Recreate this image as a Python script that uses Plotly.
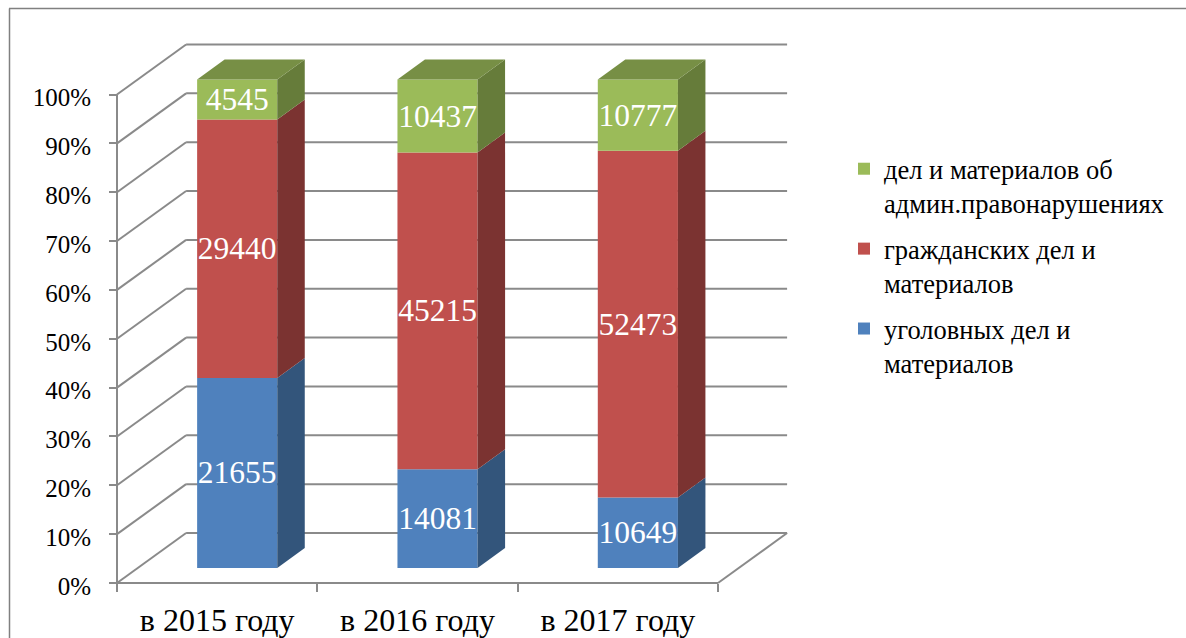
import plotly.graph_objects as go

categories = ["в 2015 году", "в 2016 году", "в 2017 году"]
criminal = [21655, 14081, 10649]
civil = [29440, 45215, 52473]
admin = [4545, 10437, 10777]
series_names = ["уголовных дел и<br>материалов",
                "гражданских дел и<br>материалов",
                "дел и материалов об<br>админ.правонарушениях"]
percent_ticks = [0, 10, 20, 30, 40, 50, 60, 70, 80, 90, 100]
percent_labels = ["0%", "10%", "20%", "30%", "40%", "50%", "60%", "70%", "80%", "90%", "100%"]

W, H = 1186, 638
AX_L, AX_B = 117.0, 583.0
PX_X, PX_Y = 200.33, 4.885
WALL_DX, WALL_DY = 0.345, 50 / PX_Y     # depth of the chart box
BAR_DX, BAR_DY = 0.1, 15 / PX_Y         # where the bar front sits in depth
BAR_SIDE_DX, BAR_SIDE_DY = 27.5 / PX_X, 20 / PX_Y
BAR_W = 0.4
GRID = "#8a8a8a"
FACE = ["#4F81BD", "#C0504D", "#9BBB59"]
SIDE = ["#33557B", "#7B3331", "#667C3A"]
TOP = "#778F45"

rows = [criminal, civil, admin]
totals = [sum(r[i] for r in rows) for i in range(len(categories))]
shares = [[100 * r[i] / totals[i] for i in range(len(categories))] for r in rows]

fig = go.Figure()
shapes = []


def seg(x0, y0, x1, y1, **kw):
    shapes.append(dict(type="line", xref="x", yref="y", x0=x0, y0=y0, x1=x1, y1=y1,
                       layer="below", line=dict(color=GRID, width=kw.get("width", 2))))


n = len(categories)
for p in percent_ticks:
    seg(0, p, WALL_DX, p + WALL_DY)
    seg(WALL_DX, p + WALL_DY, n + WALL_DX, p + WALL_DY)
seg(0, 0, 0, 100)
seg(0, 0, n, 0)
seg(n, 0, n + WALL_DX, WALL_DY)

# Side faces and top faces of the bars
for s, share in enumerate(shares):
    for i in range(n):
        xr = i + 0.5 + BAR_DX + BAR_W / 2
        base = sum(shares[k][i] for k in range(s)) + BAR_DY
        top = base + share[i]
        fig.add_trace(go.Scatter(
            x=[xr, xr + BAR_SIDE_DX, xr + BAR_SIDE_DX, xr, xr],
            y=[base, base + BAR_SIDE_DY, top + BAR_SIDE_DY, top, base],
            mode="lines", fill="toself", fillcolor=SIDE[s], line=dict(width=0),
            showlegend=False, hoverinfo="skip"))
        if s == len(shares) - 1:
            xl = xr - BAR_W
            fig.add_trace(go.Scatter(
                x=[xl, xr, xr + BAR_SIDE_DX, xl + BAR_SIDE_DX, xl],
                y=[top, top, top + BAR_SIDE_DY, top + BAR_SIDE_DY, top],
                mode="lines", fill="toself", fillcolor=TOP, line=dict(width=0),
                showlegend=False, hoverinfo="skip"))

# Front faces
for s, (row, share) in enumerate(zip(rows, shares)):
    fig.add_trace(go.Bar(
        x=[i + 0.5 + BAR_DX for i in range(n)],
        y=share,
        base=[sum(shares[k][i] for k in range(s)) + BAR_DY for i in range(n)],
        width=BAR_W,
        name=series_names[s],
        legendgroup=str(s),
        legendrank=len(rows) - s,
        marker=dict(color=FACE[s], line=dict(width=0)),
        text=[str(v) for v in row],
        textposition="inside",
        insidetextanchor="middle",
        constraintext="none",
        textangle=0,
        insidetextfont=dict(color="white", size=31.5, family="Liberation Serif"),
    ))

shapes.append(dict(type="line", xref="paper", yref="paper", x0=9 / W, x1=1, y0=1 - 8.5 / H, y1=1 - 8.5 / H,
                   line=dict(color="#808080", width=1.5)))
shapes.append(dict(type="line", xref="paper", yref="paper", x0=9.5 / W, x1=9.5 / W, y0=0, y1=1 - 8.5 / H,
                   line=dict(color="#808080", width=1.5)))

fig.update_layout(
    width=W, height=H,
    margin=dict(l=0, r=0, t=0, b=0),
    paper_bgcolor="white", plot_bgcolor="rgba(0,0,0,0)",
    barmode="overlay",
    font=dict(family="Liberation Serif", color="black"),
    shapes=shapes,
    xaxis=dict(
        range=[-AX_L / PX_X, (W - AX_L) / PX_X],
        anchor="free", position=1 - AX_B / H, automargin=False,
        showgrid=False, zeroline=False, showline=False,
        tickmode="array", tickvals=[i + 0.5 for i in range(n)], ticktext=categories,
        ticks="outside", ticklen=9, tickcolor="rgba(0,0,0,0)",
        tickfont=dict(size=32, family="Liberation Serif", color="black"),
        minor=dict(tickmode="array", tickvals=list(range(n + 1)), ticks="outside",
                   ticklen=8, tickwidth=2, tickcolor=GRID),
    ),
    yaxis=dict(
        range=[-(H - AX_B) / PX_Y, AX_B / PX_Y],
        anchor="free", position=AX_L / W, automargin=False,
        showgrid=False, zeroline=False, showline=False,
        tickmode="array", tickvals=percent_ticks, ticktext=percent_labels,
        ticks="outside", ticklen=8, tickwidth=2, tickcolor=GRID,
        ticklabelstandoff=13, ticklabelshift=3,
        tickfont=dict(size=25, family="Liberation Serif", color="black"),
    ),
    legend=dict(
        x=844 / W, xanchor="left", y=1 - 145 / H, yanchor="top",
        traceorder="grouped", tracegroupgap=8, valign="top",
        font=dict(size=26.5, family="Liberation Serif", color="black"),
        bgcolor="rgba(0,0,0,0)", itemwidth=30,
    ),
)

fig.write_html("out.html", post_script="document.body.style.margin='0';",
               config={"displayModeBar": False})
